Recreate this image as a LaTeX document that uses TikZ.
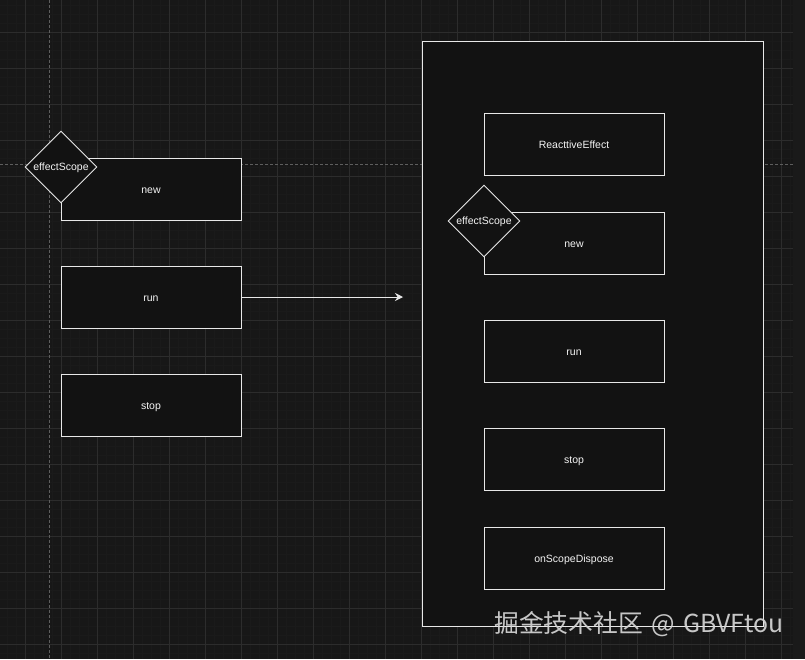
\documentclass[tikz,border=0pt]{standalone}
\usepackage{fontspec}
\setmainfont{Liberation Sans}
\newfontfamily\cjk{Noto Sans CJK SC}
\usetikzlibrary{shapes.geometric,arrows.meta}
\definecolor{bgc}{HTML}{171717}
\definecolor{stripc}{HTML}{1A1A1A}
\definecolor{minorc}{HTML}{1A1A1A}
\definecolor{majorc}{HTML}{2C2C2C}
\definecolor{guidec}{HTML}{5E5E5E}
\definecolor{boxfill}{HTML}{121212}
\definecolor{linec}{HTML}{E8E8E8}
\definecolor{textc}{HTML}{F4F4F4}
\definecolor{wmc}{HTML}{D6D6D6}
\tikzset{
  stepbox/.style={draw=linec, line width=0.9pt, fill=boxfill, rectangle,
    minimum width=180pt, minimum height=62pt, inner sep=0pt,
    text height=8.5pt, text depth=0.5pt,
    text=textc, font=\fontsize{10.5}{12}\selectfont},
  scopediamond/.style={draw=linec, line width=0.9pt, fill=boxfill, diamond,
    minimum width=72pt, minimum height=72pt, inner sep=0pt, aspect=1,
    text height=8.5pt, text depth=1.5pt,
    text=textc, font=\fontsize{10.5}{12}\selectfont},
  panel/.style={draw=linec, line width=0.9pt, fill=boxfill, rectangle,
    minimum width=341pt, minimum height=585pt, inner sep=0pt},
  conn/.style={draw=linec, line width=0.9pt, -{Stealth[length=8pt,width=8pt]}},
  minorline/.style={draw=minorc, line width=0.6pt},
  majorline/.style={draw=majorc, line width=0.8pt},
  guide/.style={draw=guidec, line width=0.7pt, dash pattern=on 2.5pt off 2.5pt},
}
\begin{document}
\begin{tikzpicture}[x=1pt,y=-1pt]
\useasboundingbox (0,0) rectangle (805,659);
% background
\fill[bgc] (0,0) rectangle (805,659);
\fill[stripc] (793,0) rectangle (805,659);
% grid
\begin{scope}
\clip (0,0) rectangle (793,659);
\foreach \x in {7,16,...,793} \draw[minorline] (\x,0) -- (\x,659);
\foreach \y in {5,14,...,659} \draw[minorline] (0,\y) -- (793,\y);
\foreach \x in {25,61,...,793} \draw[majorline] (\x,0) -- (\x,659);
\foreach \y in {32,68,...,659} \draw[majorline] (0,\y) -- (793,\y);
\end{scope}
% guides
\draw[guide] (49,0) -- (49,659);
\draw[guide] (0,164) -- (793,164);
% left column
\node[stepbox] (lnew) at (151,189) {new};
\node[stepbox] (lrun) at (151,297) {run};
\node[stepbox] (lstop) at (151,405.5) {stop};
\node[scopediamond] (lscope) at (61,167) {effectScope};
% right panel
\node[panel] (container) at (592.5,333.5) {};
\node[stepbox] (reffect) at (574,144.5) {ReacttiveEffect};
\node[stepbox] (rnew) at (574,243.5) {new};
\node[stepbox] (rrun) at (574,351.5) {run};
\node[stepbox] (rstop) at (574,459.5) {stop};
\node[stepbox] (rdispose) at (574,558.5) {onScopeDispose};
\node[scopediamond] (rscope) at (484,221) {effectScope};
% connector
\coordinate (arrowend) at (403,297);
\draw[conn] (lrun.east) -- (arrowend);
% watermark
\node[anchor=west, inner sep=0pt, text=wmc, opacity=0.92, font=\cjk\fontsize{24.8}{27}\selectfont] (wm) at (494,624) {掘金技术社区\hspace{8.5pt}@\hspace{8.5pt}GBVFtou};
\end{tikzpicture}
\end{document}
